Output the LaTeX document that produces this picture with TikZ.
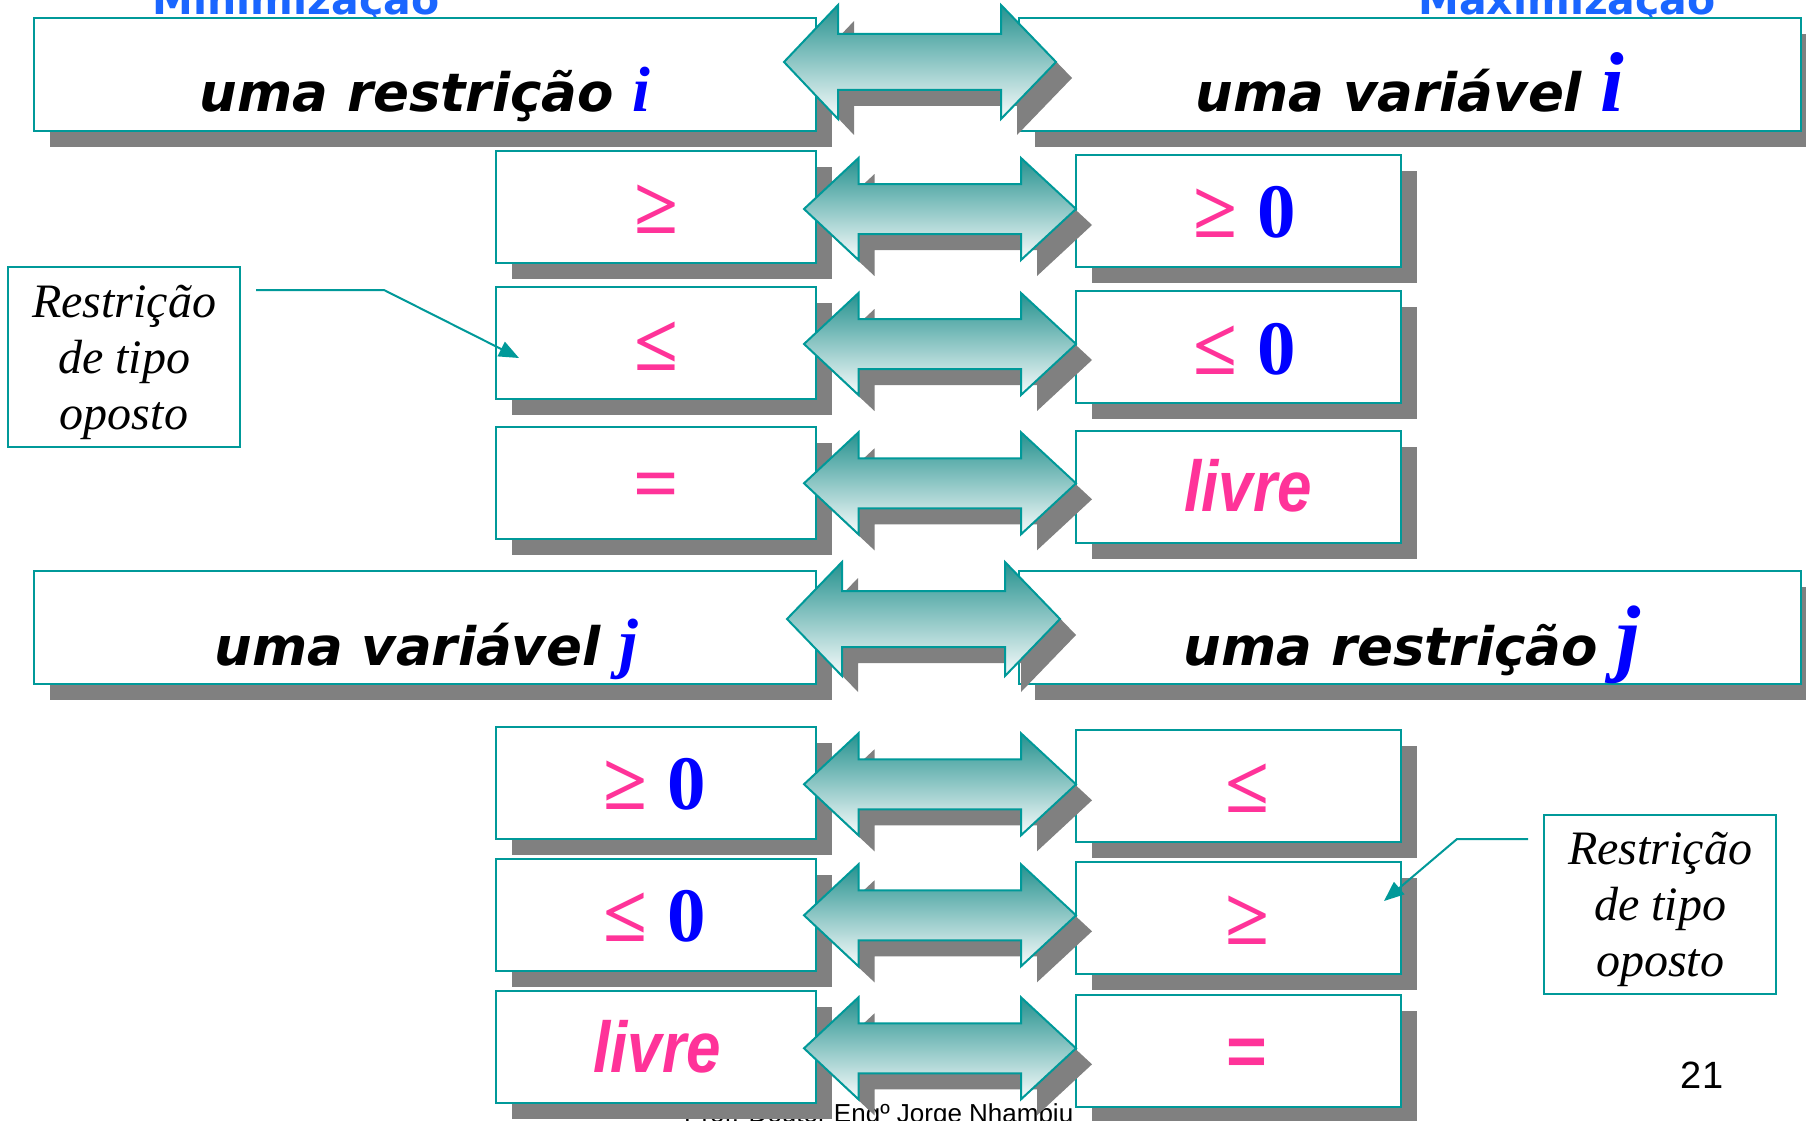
\documentclass[tikz,border=0pt]{standalone}
\usepackage{fontspec}
\usepackage{graphicx}
\usetikzlibrary{arrows.meta}
\newfontfamily\verdbi{DejaVu Sans Bold Oblique}
\newfontfamily\verdb{DejaVu Sans Bold}
\newfontfamily\tms{Liberation Serif}
\newfontfamily\arl{Liberation Sans}
\definecolor{tealc}{RGB}{0,153,153}
\definecolor{shgray}{RGB}{128,128,128}
\definecolor{pinkc}{RGB}{255,51,153}
\definecolor{titleblue}{RGB}{26,102,255}
\definecolor{arrtop}{RGB}{38,146,143}
\definecolor{arrbot}{RGB}{248,252,252}
\newcommand\DblArrow[7]{%
  \path[dblarrow] (#1,#5) -- (#2,#5-#6) -- (#2,#5-#7) -- (#3,#5-#7) -- (#3,#5-#6) -- (#4,#5)
    -- (#3,#5+#6) -- (#3,#5+#7) -- (#2,#5+#7) -- (#2,#5+#6) -- cycle;}
\tikzset{
  boxsty/.style={draw=tealc, line width=2pt, fill=white, inner sep=0pt, outer sep=0pt,
    preaction={fill=shgray, draw=none, transform canvas={xshift=16pt,yshift=-16pt}}},
  bigbox/.style={boxsty, minimum width=782pt, minimum height=113pt},
  smallL/.style={boxsty, minimum width=320pt, minimum height=112pt},
  smallR/.style={boxsty, minimum width=325pt, minimum height=112pt},
  notebox/.style={draw=tealc, line width=2pt, fill=white, inner sep=0pt, minimum width=232pt, minimum height=180pt},
  notetxt/.style={inner sep=0pt, align=center, font=\tms\itshape\fontsize{48}{56}\selectfont},
  bigtxt/.style={inner sep=0pt, anchor=base, font=\verdbi\fontsize{53}{60}\selectfont},
  symtxt/.style={inner sep=0pt, anchor=center, text=pinkc, font=\tms\bfseries\fontsize{80}{84}\selectfont},
  livretxt/.style={inner sep=0pt, anchor=center, text=pinkc, font=\arl\bfseries\itshape\fontsize{72}{80}\selectfont},
  titletxt/.style={inner sep=0pt, anchor=base, text=titleblue, font=\verdb\fontsize{41}{48}\selectfont},
  dblarrow/.style={draw=tealc, line width=2pt, top color=arrtop, bottom color=arrbot,
    preaction={fill=shgray, draw=none, transform canvas={xshift=16pt,yshift=-16pt}}},
  callout/.style={draw=tealc, line width=2pt, -{Triangle[length=20pt,width=16pt]}}
}
\newcommand\bi[2]{{\tms\bfseries\itshape\color{blue}\fontsize{#1}{#1}\selectfont #2}}
\newcommand\zr{{\bfseries\color{blue}\fontsize{77}{80}\selectfont 0}}
\begin{document}
\begin{tikzpicture}[x=1pt,y=-1pt]
\useasboundingbox (0,0) rectangle (1806,1121);
\clip (0,0) rectangle (1806,1121);
\fill[white] (0,0) rectangle (1806,1121);

% titles (cut at top)
\node[titletxt] (tmin) at (296,15) {Minimização};
\node[titletxt] (tmax) at (1567,15) {Maximização};

% footer and page number
\node[anchor=base west, inner sep=0pt, font=\arl\fontsize{26}{30}\selectfont] (foot) at (684,1122) {Prof. Doutor Engº Jorge Nhambiu};
\node[anchor=base, inner sep=0pt, font=\arl\fontsize{38}{44}\selectfont] (pg) at (1702,1088) {21};

% big boxes
\node[bigbox] (tl) at (425,74.5) {};
\node[bigbox] (tr) at (1409.5,74.5) {};
\node[bigbox] (ml) at (425,627) {};
\node[bigbox] (mr) at (1410,627) {};

% small boxes left
\node[smallL] (l1) at (656,207) {};
\node[smallL] (l2) at (656,343) {};
\node[smallL] (l3) at (656,483) {};
\node[smallL] (l4) at (656,783) {};
\node[smallL] (l5) at (656,915) {};
\node[smallL] (l6) at (656,1047) {};
% small boxes right
\node[smallR] (r1) at (1238.5,211) {};
\node[smallR] (r2) at (1238.5,347) {};
\node[smallR] (r3) at (1238.5,487) {};
\node[smallR] (r4) at (1238.5,786) {};
\node[smallR] (r5) at (1238.5,918) {};
\node[smallR] (r6) at (1238.5,1051) {};

% big texts
\node[bigtxt] (ttl) at (425,112) {uma restrição \bi{64}{i}};
\node[bigtxt] (ttr) at (1410,112) {uma variável \bi{85}{i}};
\node[bigtxt] (tml) at (426,665) {uma variável \bi{67}{j}};
\node[bigtxt] (tmr) at (1412,665) {uma restrição \bi{86}{j}};

% symbols
\node[symtxt] (s1l) at (656,209) {≥};
\node[symtxt] (s1r) at (1245,212) {≥ \zr};
\node[symtxt] (s2l) at (656,346) {≤};
\node[symtxt] (s2r) at (1245,349) {≤ \zr};
\node[symtxt] (s3l) at (656,492) {=};
\node[livretxt] (s3r) at (1248,486) {\scalebox{0.86}[1]{livre}};
\node[symtxt] (s4l) at (655,784) {≥ \zr};
\node[symtxt] (s4r) at (1247,788) {≤};
\node[symtxt] (s5l) at (655,916) {≤ \zr};
\node[symtxt] (s5r) at (1247,920) {≥};
\node[livretxt] (s6l) at (657,1046.5) {\scalebox{0.86}[1]{livre}};
\node[inner sep=0pt, text=pinkc, font=\arl\bfseries\fontsize{70}{80}\selectfont] (s6r) at (1247,1057) {=};

% annotation boxes
\node[notebox] (n1) at (124,357) {};
\node[notetxt] (n1t) at (124,362) {Restrição\\de tipo\\oposto};
\node[notebox, minimum height=179pt] (n2) at (1660,904.5) {};
\node[notetxt] (n2t) at (1660,909.5) {Restrição\\de tipo\\oposto};

% double arrows
\DblArrow{784}{838}{1001}{1056}{62}{57}{28}
\DblArrow{804}{858.5}{1021}{1076}{209}{51}{25}
\DblArrow{804}{858.5}{1021}{1076}{344}{51}{25}
\DblArrow{804}{858.5}{1021}{1076}{483.3}{51}{25}
\DblArrow{787}{842}{1005}{1060}{619}{57}{28}
\DblArrow{804}{858.5}{1021}{1076}{784.3}{51}{25}
\DblArrow{804}{858.5}{1021}{1076}{915.3}{51}{25}
\DblArrow{804}{858.5}{1021}{1076}{1048.3}{51}{25}

% callouts
\coordinate (a1s) at (256,290);
\coordinate (a1b) at (384,290);
\coordinate (a1t) at (519,358);
\draw[callout] (a1s) -- (a1b) -- (a1t);
\coordinate (a2s) at (1528,839);
\coordinate (a2b) at (1457,839);
\coordinate (a2t) at (1384,901);
\draw[callout] (a2s) -- (a2b) -- (a2t);
\end{tikzpicture}
\end{document}
